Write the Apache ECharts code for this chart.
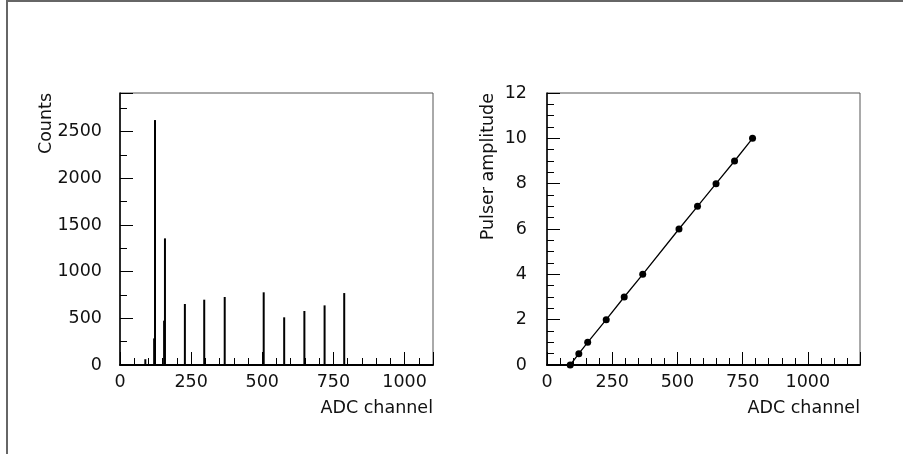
<!DOCTYPE html>
<html>
<head>
<meta charset="utf-8">
<script src="https://cdn.jsdelivr.net/npm/echarts@6/dist/echarts.min.js"></script>
<style>
html,body{margin:0;padding:0;background:#fff;}
#frame{position:absolute;left:6px;top:0;width:897px;height:454px;border-left:2px solid #666;border-top:2px solid #666;box-sizing:border-box;}
#chart{position:absolute;left:0;top:0;width:903px;height:454px;}
</style>
</head>
<body>
<div id="frame"></div>
<div id="chart"></div>
<script>
// Left panel: ADC spectrum (channel, counts)
const histChannel = [89, 120, 123, 155, 158, 228, 296, 368, 505, 577, 648, 719, 788];
const histCounts  = [62, 285, 2625, 475, 1357, 654, 700, 729, 779, 511, 579, 639, 771];
// Right panel: calibration points (ADC channel, pulser amplitude)
const calChannel   = [89, 122, 156, 227, 296, 367, 506, 577, 648, 719, 788];
const calAmplitude = [0, 0.5, 1, 2, 3, 4, 6, 7, 8, 9, 10];
// Axis ranges / ticks
const leftX  = {min: 0, max: 1100, major: 250, minorSplit: 5};
const leftY  = {min: 0, max: 2915, major: 500, minorSplit: 2};
const rightX = {min: 0, max: 1200, major: 250, minorSplit: 5};
const rightY = {min: 0, max: 12,   major: 2,   minorSplit: 4};
const xTitle = 'ADC channel';
const leftYTitle = 'Counts';
const rightYTitle = 'Pulser amplitude';

const FONT = 'DejaVu Sans';
const FS = 17.5;
const TXT = '#111';
const G = [
  {left:120, top:93, width:313, height:272},
  {left:547, top:93, width:313, height:272}
];

function xAxisOf(grid, r){
  return {type:'value', gridIndex:grid, position:'bottom', min:r.min, max:r.max, interval:r.major,
    axisLine:{show:true, onZero:false, lineStyle:{color:'#000', width:2}},
    axisTick:{show:true, inside:true, length:13, lineStyle:{color:'#000', width:1}},
    minorTick:{show:true, splitNumber:r.minorSplit, length:7, lineStyle:{color:'#000', width:1}},
    axisLabel:{show:true, margin:8, color:TXT, fontFamily:FONT, fontSize:FS, showMaxLabel:false, formatter:v=>String(v)},
    splitLine:{show:false}, minorSplitLine:{show:false}};
}
function yAxisOf(grid, r, margin){
  return {type:'value', gridIndex:grid, position:'left', min:r.min, max:r.max, interval:r.major,
    axisLine:{show:true, onZero:false, lineStyle:{color:'#000', width:1.5}},
    axisTick:{show:true, inside:true, length:13, lineStyle:{color:'#000', width:1}},
    minorTick:{show:true, splitNumber:r.minorSplit, length:7, lineStyle:{color:'#000', width:1}},
    axisLabel:{show:true, margin:margin, color:TXT, fontFamily:FONT, fontSize:FS, showMaxLabel:(r.max % r.major === 0), formatter:v=>String(v)},
    splitLine:{show:false}, minorSplitLine:{show:false}};
}
function xTitleText(g){
  return {type:'text', x:g.left+g.width, y:g.top+g.height+43, silent:true,
    style:{text:xTitle, align:'right', verticalAlign:'middle', fill:TXT, font:FS+'px "'+FONT+'"'}};
}
function yTitleText(g, title, off){
  return {type:'text', x:g.left-off, y:g.top, rotation:Math.PI/2, silent:true,
    style:{text:title, align:'right', verticalAlign:'middle', fill:TXT, font:FS+'px "'+FONT+'"'}};
}

const chart = echarts.init(document.getElementById('chart'), null, {renderer:'canvas'});
chart.setOption({
  animation:false,
  backgroundColor:'transparent',
  grid:G.map(g=>Object.assign({show:true, borderColor:'#555', borderWidth:1, backgroundColor:'transparent'}, g)),
  xAxis:[xAxisOf(0,leftX), xAxisOf(1,rightX)],
  yAxis:[yAxisOf(0,leftY,18), yAxisOf(1,rightY,20)],
  graphic:[xTitleText(G[0]), xTitleText(G[1]), yTitleText(G[0], leftYTitle, 74), yTitleText(G[1], rightYTitle, 59)],
  series:[
    {type:'bar', xAxisIndex:0, yAxisIndex:0, barWidth:2, itemStyle:{color:'#000'},
     data: histChannel.map((c,i)=>[c, histCounts[i]])},
    {type:'line', xAxisIndex:1, yAxisIndex:1, symbol:'circle', symbolSize:7,
     itemStyle:{color:'#000'}, lineStyle:{color:'#000', width:1.3},
     data: calChannel.map((c,i)=>[c, calAmplitude[i]])}
  ]
});
</script>
</body>
</html>
